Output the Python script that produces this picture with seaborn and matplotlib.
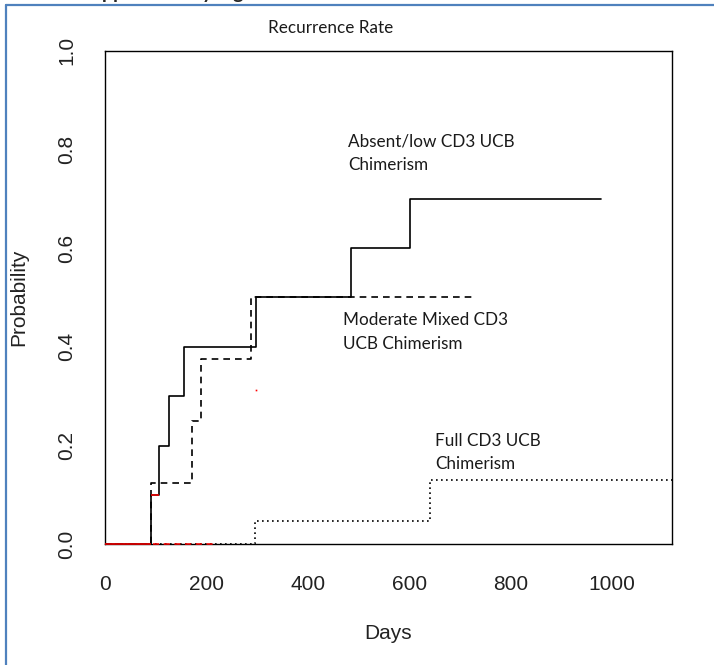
import matplotlib
matplotlib.use("Agg")
import matplotlib.pyplot as plt
from matplotlib.lines import Line2D
import numpy as np
import pandas as pd
import seaborn as sns

# cumulative incidence step data
absent_days = [0, 90, 106, 127, 156, 298, 486, 602, 978]
absent_prob = [0, 0.1, 0.2, 0.3, 0.4, 0.5, 0.6, 0.7, 0.7]

moderate_days = [0, 91, 171, 189, 288, 724]
moderate_prob = [0, 0.125, 0.25, 0.375, 0.5, 0.5]

full_days = [0, 295, 641, 1150]
full_prob = [0, 0.047, 0.13, 0.13]

# stray red pieces left in the original
red_solid = [(0, 90, 0.0), (90, 106, 0.1)]
red_dashed = [(95, 215, 0.0)]
red_dot = (298, 0.312)

x_ticks = [0, 200, 400, 600, 800, 1000]
y_ticks = [0.0, 0.2, 0.4, 0.6, 0.8, 1.0]

labels = [
    (348, 146.7, ["Absent/low CD3 UCB", "Chimerism"]),
    (343, 325, ["Moderate Mixed CD3", "UCB Chimerism"]),
    (435, 445.7, ["Full CD3 UCB", "Chimerism"]),
]

df = pd.concat([
    pd.DataFrame({"days": absent_days, "prob": absent_prob, "group": "Absent"}),
    pd.DataFrame({"days": moderate_days, "prob": moderate_prob, "group": "Moderate"}),
    pd.DataFrame({"days": full_days, "prob": full_prob, "group": "Full"}),
])

sns.set_style("white")
plt.rcParams["font.family"] = ["Liberation Sans", "DejaVu Sans"]

W, H = 714, 665
fig = plt.figure(figsize=(W / 100, H / 100), dpi=100)
ax = fig.add_axes([105 / W, 1 - 544.3 / H, 567 / W, 493.6 / H])

sns.lineplot(data=df, x="days", y="prob", style="group",
             dashes={"Absent": "", "Moderate": (4, 3), "Full": (1, 2)},
             color="black", linewidth=1.2, drawstyle="steps-post",
             estimator=None, sort=False, legend=False, ax=ax)

for x0, x1, y in red_solid:
    ax.hlines(y, x0, x1, color="red", linewidth=1.1, zorder=5, clip_on=False)
for x0, x1, y in red_dashed:
    ax.hlines(y, x0, x1, color="red", linewidth=1.1, linestyles=(0, (4, 3)), zorder=5, clip_on=False)
ax.plot([red_dot[0]], [red_dot[1]], "s", color="red", markersize=1.2, markeredgewidth=0)

ax.set_xlim(0, 1118)
ax.set_ylim(0, 1)
ax.set_xticks(x_ticks)
ax.set_yticks(y_ticks)
ax.set_yticklabels([f"{v:.1f}" for v in y_ticks], rotation=90, va="center")
ax.tick_params(axis="both", direction="out", length=8.5, width=1, color="black",
               labelsize=15, labelcolor="#222222")
ax.tick_params(axis="x", pad=13.5)
ax.tick_params(axis="y", pad=12)
for s in ax.spines.values():
    s.set_color("black")
    s.set_linewidth(1)

ax.set_xlabel("Days", fontsize=15, color="#222222")
ax.set_ylabel("Probability", fontsize=15, color="#222222")
ax.xaxis.set_label_coords(0.5, (544.3 - 624) / 493.6)
ax.yaxis.set_label_coords((28 - 105) / 567, 0.5)

# calibri-ish annotations
for x, y, lines in labels:
    for i, line in enumerate(lines):
        fig.text(x / W, 1 - (y + i * 23.5) / H, line, family="Lato",
                 fontsize=12.3, color="#1a1a1a", ha="left", va="baseline")

fig.text(268 / W, 1 - 33 / H, "Recurrence Rate", family="Lato", fontsize=12.3,
         color="#1a1a1a", ha="left", va="baseline")

# clipped heading from the page and the blue frame
fig.text(80 / W, 1 + 1 / H, "Supplementary Figure 2", family="Lato",
         fontweight="bold", fontsize=14, ha="left", va="baseline")
fig.add_artist(Line2D([6 / W, 6 / W], [0, 1 - 5 / H], color="#4F81BD", linewidth=1.6))
fig.add_artist(Line2D([6 / W, 1], [1 - 5 / H, 1 - 5 / H], color="#4F81BD", linewidth=1.6))

fig.savefig("out.png", dpi=100)
